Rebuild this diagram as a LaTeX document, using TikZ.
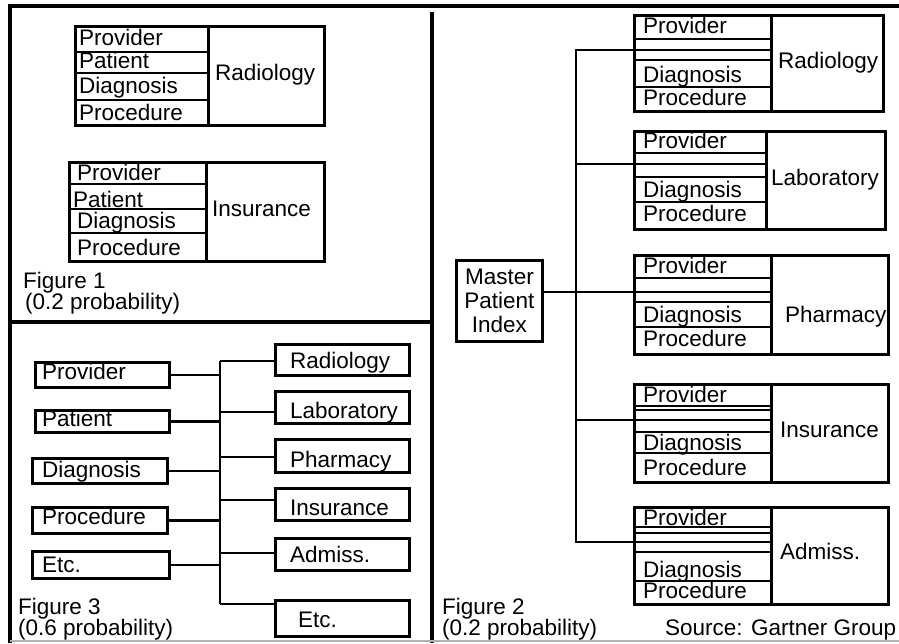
\documentclass[tikz,border=0pt]{standalone}
\usepackage{fontspec}
\setmainfont{Liberation Sans}
\usetikzlibrary{calc}
\begin{document}
\begin{tikzpicture}[x=1pt,y=-1pt,
  every node/.style={font=\fontsize{22.5}{24}\selectfont},
  ln/.style={line width=2.8pt},
  frame/.style={line width=3.2pt},
  cellbox/.style={draw, line width=2.8pt, anchor=north west, inner sep=0pt},
  txt/.style={anchor=base west, inner sep=0pt},
]
\useasboundingbox (0,0) rectangle (899,643);

% ---------- panel frame ----------
\draw[frame] (10,643) -- (10,6) -- (899,6);
\draw[frame] (432,12) -- (432,643);
\draw[frame] (10,322) -- (432,322);
\draw[gray!60, line width=1.2pt] (10,641) -- (899,641);

% ---------- Figure 1: separate tables ----------
% Radiology table
\node[cellbox, minimum width=249pt, minimum height=99pt] (r1) at (74,25) {};
\node[cellbox, minimum width=116pt, minimum height=99pt] (r1c) at (207,25) {};
\draw[ln] (74,52) -- (207,52);
\draw[ln] (74,73) -- (207,73);
\draw[ln] (74,100) -- (207,100);
\node[txt] (r1a) at (79,45) {Provider};
\node[txt] (r1b) at (79,68) {Patient};
\node[txt] (r1d) at (79,93) {Diagnosis};
\node[txt] (r1e) at (79,120) {Procedure};
\node[txt] (r1n) at (215,80) {Radiology};

% Insurance table
\node[cellbox, minimum width=255pt, minimum height=99pt] (i1) at (68,161) {};
\node[cellbox, minimum width=118pt, minimum height=99pt] (i1c) at (205,161) {};
\draw[ln] (68,184) -- (205,184);
\draw[ln] (68,209) -- (205,209);
\draw[ln] (68,233) -- (205,233);
\node[txt] (i1a) at (77,180) {Provider};
\node[txt] (i1b) at (73,207) {Patient};
\node[txt] (i1d) at (77,228) {Diagnosis};
\node[txt] (i1e) at (77,255) {Procedure};
\node[txt] (i1n) at (212,216) {Insurance};

\node[txt] (f1a) at (23,288) {Figure 1};
\node[txt] (f1b) at (25,309) {(0.2 probability)};

% ---------- Figure 3: shared data elements ----------
\node[cellbox, minimum width=134pt, minimum height=25pt] (lpro) at (34,361) {};
\node[cellbox, minimum width=134pt, minimum height=22pt] (lpat) at (34,409) {};
\node[cellbox, minimum width=135pt, minimum height=25pt] (ldia) at (31,457) {};
\node[cellbox, minimum width=135pt, minimum height=26pt] (lprc) at (31,506) {};
\node[cellbox, minimum width=137pt, minimum height=27pt] (letc) at (31,550) {};
\node[txt] (lprot) at (42,379) {Provider};
\node[txt] (lpatt) at (42,426) {Patient};
\node[txt] (ldiat) at (42,477) {Diagnosis};
\node[txt] (lprct) at (42,524) {Procedure};
\node[txt] (letct) at (42,572) {Etc.};

\node[cellbox, minimum width=134pt, minimum height=31pt] (rrad) at (274,343) {};
\node[cellbox, minimum width=134pt, minimum height=32pt] (rlab) at (274,390) {};
\node[cellbox, minimum width=134pt, minimum height=33pt] (rpha) at (274,438) {};
\node[cellbox, minimum width=134pt, minimum height=32pt] (rins) at (274,487) {};
\node[cellbox, minimum width=134pt, minimum height=32pt] (radm) at (274,537) {};
\node[cellbox, minimum width=134pt, minimum height=36pt] (retc) at (274,599) {};
\node[txt] (rradt) at (290,368) {Radiology};
\node[txt] (rlabt) at (290,418) {Laboratory};
\node[txt] (rphat) at (290,467) {Pharmacy};
\node[txt] (rinst) at (290,515) {Insurance};
\node[txt] (radmt) at (290,562) {Admiss.};
\node[txt] (retct) at (298,627) {Etc.};

% bus and branches
\coordinate (t1) at (220,361);
\coordinate (t2) at (220,412);
\coordinate (t3) at (220,457);
\coordinate (t4) at (220,500);
\coordinate (t5) at (220,553);
\coordinate (t6) at (220,604);
\draw[ln] (t1) -- (t6);
\foreach \s in {lpro,lpat,ldia,lprc,letc}
  \draw[ln] (\s.east) -- (\s.east -| t1);
\draw[ln] (t1) -- (t1 -| rrad.west);
\draw[ln] (t2) -- (t2 -| rlab.west);
\draw[ln] (t3) -- (t3 -| rpha.west);
\draw[ln] (t4) -- (t4 -| rins.west);
\draw[ln] (t5) -- (t5 -| radm.west);
\draw[ln] (t6) -- (t6 -| retc.west);

\node[txt] (f3a) at (18,614) {Figure 3};
\node[txt] (f3b) at (18,635) {(0.6 probability)};

% ---------- Figure 2: master patient index ----------
\node[draw, line width=2.8pt, minimum width=86pt, minimum height=81pt, inner sep=0pt,
      align=center, anchor=north west] (mpi) at (455,259) {Master\\Patient\\Index};

% Radiology
\node[cellbox, minimum width=249pt, minimum height=96pt] (r2) at (633,14) {};
\node[cellbox, minimum width=112pt, minimum height=96pt] (r2c) at (770,14) {};
\draw[ln] (633,39) -- (770,39);
\draw[ln] (633,60) -- (770,60);
\draw[ln] (633,87) -- (770,87);
\node[txt] (r2a) at (643,33) {Provider};
\node[txt] (r2d) at (643,82) {Diagnosis};
\node[txt] (r2e) at (643,105) {Procedure};
\node[txt] (r2n) at (778,68) {Radiology};

% Laboratory
\node[cellbox, minimum width=251pt, minimum height=98pt] (l2) at (633,130) {};
\node[cellbox, minimum width=119pt, minimum height=98pt] (l2c) at (765,130) {};
\draw[ln] (633,153) -- (765,153);
\draw[ln] (633,177) -- (765,177);
\draw[ln] (633,202) -- (765,202);
\node[txt] (l2a) at (643,148) {Provider};
\node[txt] (l2d) at (643,197) {Diagnosis};
\node[txt] (l2e) at (643,221) {Procedure};
\node[txt] (l2n) at (771,185) {Laboratory};

% Pharmacy
\node[cellbox, minimum width=254pt, minimum height=99pt] (p2) at (633,254) {};
\node[cellbox, minimum width=117pt, minimum height=99pt] (p2c) at (770,254) {};
\draw[ln] (633,278) -- (770,278);
\draw[ln] (633,302) -- (770,302);
\draw[ln] (633,327) -- (770,327);
\node[txt] (p2a) at (643,273) {Provider};
\node[txt] (p2d) at (643,322) {Diagnosis};
\node[txt] (p2e) at (643,346) {Procedure};
\node[txt] (p2n) at (785,322) {Pharmacy};

% Insurance
\node[cellbox, minimum width=254pt, minimum height=98pt] (i2) at (633,383) {};
\node[cellbox, minimum width=117pt, minimum height=98pt] (i2c) at (770,383) {};
\draw[ln] (633,406) -- (770,406);
\draw[ln] (633,410) -- (770,410);
\draw[ln] (633,432) -- (770,432);
\draw[ln] (633,453) -- (770,453);
\node[txt] (i2a) at (643,402) {Provider};
\node[txt] (i2d) at (643,450) {Diagnosis};
\node[txt] (i2e) at (643,475) {Procedure};
\node[txt] (i2n) at (780,437) {Insurance};

% Admissions
\node[cellbox, minimum width=254pt, minimum height=97pt] (a2) at (633,506) {};
\node[cellbox, minimum width=117pt, minimum height=97pt] (a2c) at (770,506) {};
\draw[ln] (633,527) -- (770,527);
\draw[ln] (633,533) -- (770,533);
\draw[ln] (633,552) -- (770,552);
\draw[ln] (633,581) -- (770,581);
\node[txt] (a2a) at (643,525) {Provider};
\node[txt] (a2d) at (643,577) {Diagnosis};
\node[txt] (a2e) at (643,598) {Procedure};
\node[txt] (a2n) at (780,559) {Admiss.};

% bus from the index to each system
\coordinate (bt) at (576,50);
\coordinate (b2) at (576,164);
\coordinate (b4) at (576,292);
\coordinate (b3) at (576,420);
\coordinate (bb) at (576,542);
\draw[ln] (bt -| r2c.west) -- (bt) -- (bb) -- (bb -| a2c.west);
\draw[ln] (b2) -- (b2 -| l2c.west);
\draw[ln] (b3) -- (b3 -| i2c.west);
\draw[ln] (mpi.east |- b4) -- (b4 -| p2c.west);

\node[txt] (f2a) at (442,614) {Figure 2};
\node[txt] (f2b) at (442,635) {(0.2 probability)};
\node[txt] (src) at (665,635) {Source: Gartner Group};
\end{tikzpicture}
\end{document}
